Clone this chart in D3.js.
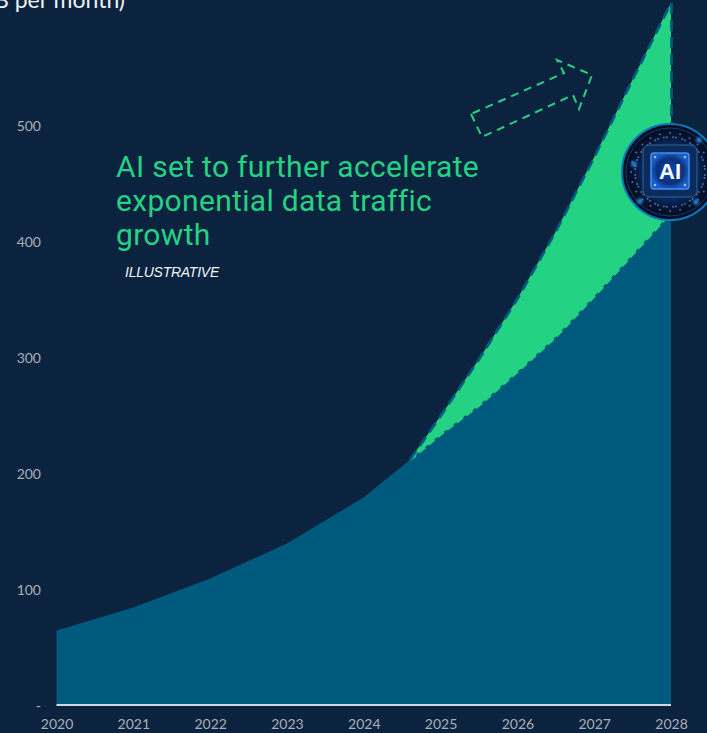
<!DOCTYPE html>
<html>
<head>
<meta charset="utf-8">
<style>
html,body{margin:0;padding:0;background:#0c2340;overflow:hidden}
svg{display:block}
text{font-family:"Lato",sans-serif}
</style>
<script src="https://cdnjs.cloudflare.com/ajax/libs/d3/7.8.5/d3.min.js"></script>
</head>
<body>
<svg id="chart" width="707" height="733"></svg>
<script>
// Traffic in EB per month
const historyYears = [2020, 2021, 2022, 2023, 2024, 2024.6];
const historyValues = [65, 85, 110, 140, 180, 212];
const baseYears = [2024.6, 2025, 2025.5, 2026, 2026.5, 2027, 2027.5, 2028];
const baseValues = [212, 234, 259, 288, 318, 353, 389, 425];
const aiYears = [2024.6, 2025, 2025.5, 2026, 2026.5, 2027, 2027.5, 2028];
const aiValues = [212, 250, 299, 351, 409, 473, 540, 606];
const yTicks = [0, 100, 200, 300, 400, 500];
const yTickLabels = ["-", "100", "200", "300", "400", "500"];
const xTicks = [2020, 2021, 2022, 2023, 2024, 2025, 2026, 2027, 2028];
const headlineLines = ["AI set to further accelerate", "exponential data traffic", "growth"];

const teal = "#005a7e", green = "#23d282", grey = "#a9b0b8";

const svg = d3.select("#chart");
const x = d3.scaleLinear().domain([2020, 2028]).range([56.5, 671]);
const y = d3.scaleLinear().domain([0, 500]).range([706, 126]);

const toPoints = (xs, ys) => xs.map((year, i) => ({ year, value: ys[i] }));
const history = toPoints(historyYears, historyValues);
const base = toPoints(baseYears, baseValues);
const ai = toPoints(aiYears, aiValues);
const baseFull = history.concat(base.slice(1));

const area = d3.area().x(d => x(d.year)).y0(y(0)).y1(d => y(d.value));
const line = d3.line().x(d => x(d.year)).y(d => y(d.value));

// AI uplift wedge between the two projections
const wedge = d3.area()
  .x(d => x(d.year))
  .y0((d, i) => y(baseValues[i]))
  .y1(d => y(d.value));
svg.append("path").datum(ai).attr("d", wedge).attr("fill", green);

// Underlying traffic
svg.append("path").datum(baseFull).attr("d", area).attr("fill", teal);

// Dashed outlines of the projections
svg.append("path").datum(base).attr("d", line)
  .attr("fill", "none").attr("stroke", green).attr("stroke-width", 2.4)
  .attr("stroke-dasharray", "8 4");
svg.append("path").datum(ai).attr("d", line)
  .attr("fill", "none").attr("stroke", teal).attr("stroke-width", 2.8)
  .attr("stroke-dasharray", "11 6");
svg.append("line")
  .attr("x1", x(2028) + 0.5).attr("x2", x(2028) + 0.5)
  .attr("y1", y(606)).attr("y2", y(425))
  .attr("stroke", teal).attr("stroke-width", 2.8)
  .attr("stroke-dasharray", "11 6");

// Zero line
svg.append("line")
  .attr("x1", x(2020)).attr("x2", x(2028))
  .attr("y1", y(0) - 1).attr("y2", y(0) - 1)
  .attr("stroke", "#cfd8de").attr("stroke-width", 2);

// Axes, labels only
const xAxis = d3.axisBottom(x).tickValues(xTicks).tickFormat(d3.format("d")).tickSize(0).tickPadding(0);
const xG = svg.append("g").attr("transform", "translate(0,719)").call(xAxis);
xG.select(".domain").remove();
xG.selectAll("text").attr("fill", grey).attr("font-size", 14).style("font-family", "Lato, sans-serif");

const yAxis = d3.axisLeft(y).tickValues(yTicks)
  .tickFormat((d, i) => yTickLabels[i]).tickSize(0).tickPadding(0);
const yG = svg.append("g").attr("transform", "translate(41,0)").call(yAxis);
yG.select(".domain").remove();
yG.selectAll("text").attr("fill", grey).attr("font-size", 14).style("font-family", "Lato, sans-serif");

// Unit label, running off the top-left corner
svg.append("text").attr("x", 125).attr("y", 8).attr("text-anchor", "end")
  .attr("fill", "#eef2f5").attr("font-size", 23).text("(EB per month)");

// Headline
svg.append("g").selectAll("text").data(headlineLines).join("text")
  .attr("x", 116).attr("y", (d, i) => 176.5 + i * 34.3)
  .attr("fill", green).attr("font-size", 30).attr("letter-spacing", 0.32)
  .style("font-family", "Roboto, sans-serif").style("font-weight", 400)
  .text(d => d);

svg.append("text").attr("x", 125).attr("y", 277)
  .attr("fill", "#f2f4f6").attr("font-size", 14).attr("font-style", "italic")
  .style("font-family", "'Liberation Sans', sans-serif").attr("letter-spacing", -0.25)
  .text("ILLUSTRATIVE");

// Dashed block arrow pointing up the curve
svg.append("path")
  .attr("d", "M471,114 L482,137 L573,95 L579,109 L592,75 L557,60 L564,73 Z")
  .attr("fill", "none").attr("stroke", green).attr("stroke-width", 2)
  .attr("stroke-dasharray", "8 6");

// AI chip badge
const defs = svg.append("defs");
const disc = defs.append("radialGradient").attr("id", "disc");
disc.append("stop").attr("offset", "0.55").attr("stop-color", "#062a66");
disc.append("stop").attr("offset", "0.78").attr("stop-color", "#051330");
disc.append("stop").attr("offset", "1").attr("stop-color", "#040a1a");
const core = defs.append("radialGradient").attr("id", "core");
core.append("stop").attr("offset", "0").attr("stop-color", "#0f4cb4");
core.append("stop").attr("offset", "0.7").attr("stop-color", "#0a2f7c");
core.append("stop").attr("offset", "1").attr("stop-color", "#1a5cc0");
const blur = defs.append("filter").attr("id", "glow").attr("x", "-60%").attr("y", "-60%").attr("width", "220%").attr("height", "220%");
blur.append("feGaussianBlur").attr("stdDeviation", 1.5);
const soft = defs.append("filter").attr("id", "soft").attr("x", "-30%").attr("y", "-30%").attr("width", "160%").attr("height", "160%");
soft.append("feGaussianBlur").attr("stdDeviation", 0.6);

const badge = svg.append("g").attr("transform", "translate(670,172)");
badge.append("circle").attr("r", 48).attr("fill", "url(#disc)")
  .attr("stroke", "#0a78bd").attr("stroke-width", 2);
badge.append("circle").attr("r", 44).attr("fill", "none")
  .attr("stroke", "#0d4a8c").attr("stroke-width", 1).attr("stroke-opacity", 0.8);
// Circuit dots around the chip
badge.append("g").attr("filter", "url(#soft)").selectAll("circle").data(d3.range(0, 360, 5)).join("circle")
  .attr("cx", d => (d % 15 === 0 ? 39 : 35) * Math.cos(d * Math.PI / 180))
  .attr("cy", d => (d % 15 === 0 ? 39 : 35) * Math.sin(d * Math.PI / 180))
  .attr("r", 1).attr("fill", "#5f8fc4").attr("fill-opacity", 0.75);
const chip = badge.append("g").attr("transform", "translate(0,-1)").attr("filter", "url(#soft)");
chip.append("rect").attr("x", -27).attr("y", -26).attr("width", 54).attr("height", 52).attr("rx", 6)
  .attr("fill", "#0a2c5c").attr("stroke", "#2f6a94").attr("stroke-width", 1);
chip.append("rect").attr("x", -19).attr("y", -18).attr("width", 38).attr("height", 36).attr("rx", 3)
  .attr("fill", "url(#core)").attr("stroke", "#3f8ff2").attr("stroke-width", 1.5);
// Bright points at the chip corners
chip.append("g").selectAll("circle").data([[-15, -14], [15, -14], [-15, 14], [15, 14]]).join("circle")
  .attr("cx", d => d[0]).attr("cy", d => d[1]).attr("r", 1.3).attr("fill", "#8cc8ff");
// Glints on the ring
badge.append("g").attr("filter", "url(#glow)").selectAll("circle")
  .data([[29, -32], [-30, 29], [26, 30], [-36, -8]]).join("circle")
  .attr("cx", d => d[0]).attr("cy", d => d[1])
  .attr("r", 2.6).attr("fill", "#2f9cff");
badge.append("text").attr("text-anchor", "middle").attr("y", 6.5)
  .attr("fill", "#ffffff").attr("font-size", 22).attr("font-weight", 700)
  .style("font-family", "'Liberation Sans', sans-serif").text("AI");
</script>
</body>
</html>
